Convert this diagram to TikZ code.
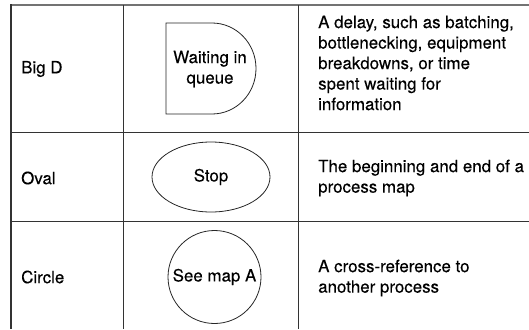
\documentclass[tikz,border=0pt]{standalone}
\usepackage{fontspec}
\setmainfont{TeX Gyre Heros}[FakeBold=0.25]
\usetikzlibrary{shapes.geometric}

\tikzset{
  rule/.style={draw=black!80, line width=1pt},
  toprule/.style={draw=black!55, line width=1.7pt},
  txt/.style={font=\fontsize{16.9}{20.5}\selectfont, inner sep=0pt},
  lbl/.style={txt, anchor=west},
  desc/.style={txt, anchor=west, align=left},
  symtext/.style={txt, align=center},
  symbol/.style={draw=black!85, line width=0.8pt}
}

\begin{document}
\begin{tikzpicture}[x=1pt, y=-1pt]
\useasboundingbox (0,0) rectangle (529,329);

% table rules
\draw[toprule] (11,5) -- (529,5);
\draw[rule, line width=1.7pt] (11,4.2) -- (11,329);
\draw[rule] (123,5) -- (123,329);
\draw[rule] (298,5) -- (298,329);
\draw[rule] (11,132) -- (529,132);
\draw[rule] (11,221) -- (529,221);

% first column
\node[lbl] (bigd) at (21,69) {Big D};
\node[lbl] (oval) at (21,178) {Oval};
\node[lbl] (circ) at (21,277) {Circle};

% symbols
\draw[symbol] (166,23) -- (212,23) arc[start angle=90, end angle=-90, x radius=44pt, y radius=45.5pt] -- (166,114) -- cycle;
\node[symtext] (queue) at (210,69) {Waiting in\\queue};
\node[symbol, symtext, ellipse, minimum width=118pt, minimum height=70pt] (stop) at (211,177) {Stop};
\node[symbol, symtext, circle, minimum size=93pt] (seemap) at (214.5,277) {See map A};

% descriptions
\node[desc] (delaytxt) at (318,63) {A delay, such as batching,\\bottlenecking, equipment\\breakdowns, or time\\spent waiting for\\information};
\node[desc] (stoptxt) at (318,178) {The beginning and end of a\\process map};
\node[desc] (maptxt) at (318,278) {A cross-reference to\\another process};

\end{tikzpicture}
\end{document}
